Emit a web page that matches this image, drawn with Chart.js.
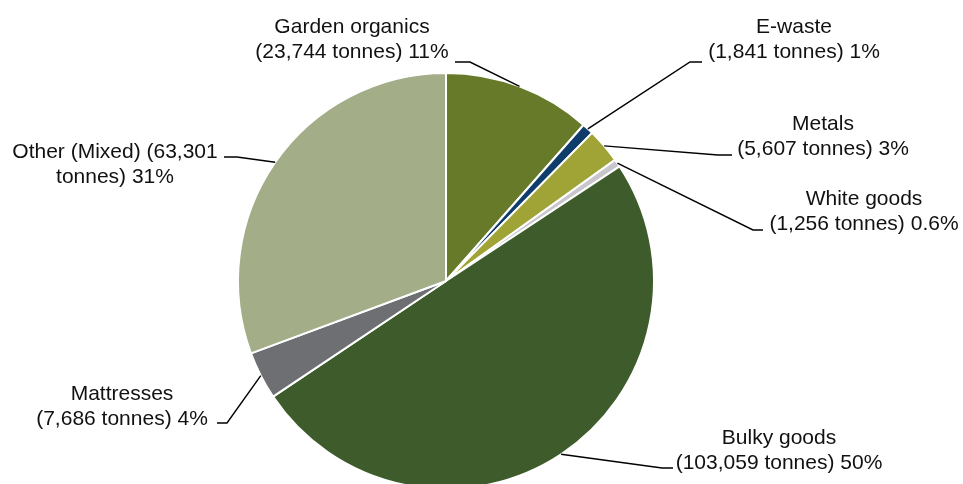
<!DOCTYPE html>
<html>
<head>
<meta charset="utf-8">
<script src="https://cdn.jsdelivr.net/npm/chart.js@4.4.1/dist/chart.umd.min.js"></script>
<style>
  html, body { margin: 0; padding: 0; background: #fff; overflow: hidden; }
  #wrap { position: absolute; left: 0; top: 0; width: 963px; height: 500px; }
</style>
</head>
<body>
<div id="wrap"><canvas id="pieChart"></canvas></div>
<script>
// Data
const categories = ['Garden organics', 'E-waste', 'Metals', 'White goods', 'Bulky goods', 'Mattresses', 'Other (Mixed)'];
const tonnes = [23744, 1841, 5607, 1256, 103059, 7686, 63301];
const percentLabels = ['11%', '1%', '3%', '0.6%', '50%', '4%', '31%'];
const sliceColors = ['#677A29', '#0E3D6B', '#A0A436', '#C9C5CC', '#3E5C2B', '#6E6F73', '#A3AD88'];

// Label placement (text centre x, first baseline y, leader knee and end)
const labelLayout = [
  { cx: 352, y: 33, knee: [470, 62], end: [455, 62] },
  { cx: 794, y: 33, knee: [690, 62], end: [702, 62] },
  { cx: 823, y: 130, knee: [718, 155], end: [732, 155] },
  { cx: 864, y: 205, knee: [753, 230], end: [763, 230] },
  { cx: 779, y: 444, knee: [662, 468], end: [673, 468] },
  { cx: 122, y: 400, knee: [227, 423], end: [217, 423] },
  { cx: 115, y: 158, knee: [237, 157], end: [224, 157], nameWithValue: true }
];

function labelLines(i) {
  const t = tonnes[i].toLocaleString('en-US');
  if (labelLayout[i].nameWithValue) {
    return [categories[i] + ' (' + t, 'tonnes) ' + percentLabels[i]];
  }
  return [categories[i], '(' + t + ' tonnes) ' + percentLabels[i]];
}

const leaderLabels = {
  id: 'leaderLabels',
  afterDatasetsDraw(chart) {
    const ctx = chart.ctx;
    const arcs = chart.getDatasetMeta(0).data;
    ctx.save();
    arcs.forEach((arc, i) => {
      const lay = labelLayout[i];
      const mid = (arc.startAngle + arc.endAngle) / 2;
      const px = arc.x + Math.cos(mid) * arc.outerRadius;
      const py = arc.y + Math.sin(mid) * arc.outerRadius;
      ctx.strokeStyle = '#000';
      ctx.lineWidth = 1.4;
      ctx.beginPath();
      ctx.moveTo(px, py);
      ctx.lineTo(lay.knee[0], lay.knee[1]);
      ctx.lineTo(lay.end[0], lay.end[1]);
      ctx.stroke();

      ctx.fillStyle = '#111';
      ctx.font = '21px "Liberation Sans", Arial, sans-serif';
      ctx.textAlign = 'center';
      ctx.textBaseline = 'alphabetic';
      labelLines(i).forEach((line, k) => {
        ctx.fillText(line, lay.cx, lay.y + k * 24.5);
      });
    });
    ctx.restore();
  }
};

new Chart(document.getElementById('pieChart'), {
  type: 'pie',
  data: {
    labels: categories,
    datasets: [{
      data: tonnes,
      backgroundColor: sliceColors,
      borderColor: '#ffffff',
      borderWidth: 2
    }]
  },
  options: {
    responsive: true, maintainAspectRatio: false,
    animation: false,
    events: [],
    layout: { padding: { left: 237, right: 308, top: 72, bottom: 10 } },
    plugins: { legend: { display: false }, tooltip: { enabled: false } }
  },
  plugins: [leaderLabels]
});
</script>
</body>
</html>
